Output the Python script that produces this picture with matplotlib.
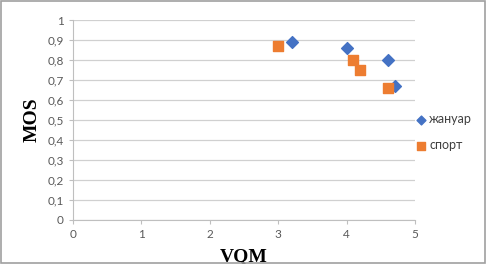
import matplotlib.pyplot as plt
from matplotlib.patches import Rectangle

# данные
janual_x = [3.2, 4.0, 4.6, 4.7]
janual_y = [0.89, 0.86, 0.80, 0.67]
sport_x = [3.0, 4.1, 4.2, 4.6]
sport_y = [0.87, 0.80, 0.75, 0.66]
series_names = ['жануар', 'спорт']
y_ticks = [0, 0.1, 0.2, 0.3, 0.4, 0.5, 0.6, 0.7, 0.8, 0.9, 1]
y_labels = ['0', '0,1', '0,2', '0,3', '0,4', '0,5', '0,6', '0,7', '0,8', '0,9', '1']
x_ticks = [0, 1, 2, 3, 4, 5]

plt.rcParams['font.family'] = ['Lato', 'DejaVu Sans']

fig = plt.figure(figsize=(4.86, 2.64), dpi=100)
ax = fig.add_axes([0.150, 0.167, 0.704, 0.757])

ax.scatter(janual_x, janual_y, marker='D', s=36, color='#4472C4', label=series_names[0], zorder=3)
ax.scatter(sport_x, sport_y, marker='s', s=60, color='#ED7D31', label=series_names[1], zorder=3)

ax.set_xlim(0, 5)
ax.set_ylim(0, 1)
ax.set_xticks(x_ticks)
ax.set_yticks(y_ticks)
ax.set_yticklabels(y_labels)
ax.tick_params(labelsize=8.5, colors='#595959', length=3, width=0.8)
ax.tick_params(axis='both', color='#bfbfbf')
ax.grid(axis='y', color='#d0d0d0', linewidth=0.9)
ax.set_axisbelow(True)
for s in ['top', 'right']:
    ax.spines[s].set_visible(False)
for s in ['left', 'bottom']:
    ax.spines[s].set_color('#bfbfbf')

ax.set_ylabel('MOS', family='Liberation Serif', fontweight='bold', fontsize=14, labelpad=5)
ax.set_xlabel('VQM', family='Liberation Serif', fontweight='bold', fontsize=14, labelpad=6)

ax.legend(loc='center left', bbox_to_anchor=(0.985, 0.44), frameon=False, fontsize=9,
          handletextpad=0.15, handlelength=1.0, labelspacing=1.1, borderaxespad=0.0,
          markerscale=0.75, labelcolor='#404040')

fig.patches.append(Rectangle((0.002, 0.004), 0.995, 0.992, transform=fig.transFigure,
                             fill=False, edgecolor='#a0a0a0', linewidth=1.2))

plt.savefig('out.png', dpi=100)
